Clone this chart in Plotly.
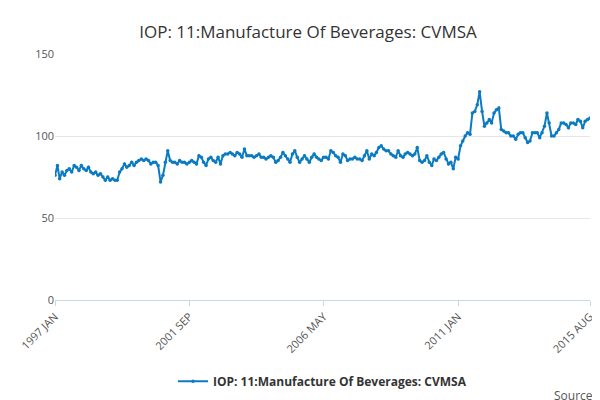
import plotly.graph_objects as go
import pandas as pd

values = [
76,82,74,78,76,79,80,78,82,81,79,82,
80,79,81,78,77,78,76,77,75,73,75,73,
74,73,73,78,80,83,81,82,84,82,84,85,
86,85,86,85,83,84,84,82,72,76,84,91,
85,84,84,83,85,84,84,83,84,85,84,83,
88,87,84,82,86,87,85,84,87,83,88,89,
89,90,89,88,90,89,87,92,88,88,88,87,
88,89,87,87,86,87,88,87,84,85,87,90,
88,86,84,89,91,87,84,86,88,86,84,87,
89,87,86,85,87,87,86,91,90,88,87,84,
89,88,85,86,86,87,86,86,85,88,91,86,
89,88,90,93,94,92,91,91,89,88,87,91,
88,87,89,90,89,88,89,93,85,84,85,88,
84,82,86,85,87,89,90,86,83,84,80,87,
86,94,97,100,102,101,114,115,119,127,115,106,
108,110,108,114,116,117,104,103,102,102,100,100,
98,101,102,102,99,96,97,102,102,102,99,102,
106,114,108,100,100,102,104,108,108,107,105,108,
108,107,110,109,105,109,110,111,
]
dates = pd.date_range("1997-01-01", periods=len(values), freq="MS")
tick_dates = ["1997-01-01", "2001-09-01", "2006-05-01", "2011-01-01", "2015-08-01"]
tick_text = ["1997 JAN", "2001 SEP", "2006 MAY", "2011 JAN", "2015 AUG"]
name = "IOP: 11:Manufacture Of Beverages: CVMSA"

fig = go.Figure(go.Scatter(x=dates, y=values, mode="lines+markers", name=name,
    line=dict(color="#0b7bc1", width=2), marker=dict(size=3.5, color="#0b7bc1")))
fig.update_layout(
    width=600, height=400, plot_bgcolor="white", paper_bgcolor="white",
    font=dict(family="Open Sans, sans-serif", color="#555"),
    title=dict(text=name, x=0.5, y=0.955, font=dict(size=17, color="#333")),
    margin=dict(l=47, r=18, t=46, b=108),
    showlegend=True,
    legend=dict(orientation="h", x=0.5, xanchor="center", yanchor="middle", y=-0.33,
                font=dict(size=12, color="#333", weight="bold")),
    annotations=[dict(text="Source:", xref="paper", yref="paper", x=1.015, y=-0.39,
                      showarrow=False, xanchor="right", yanchor="middle",
                      font=dict(size=12, color="#555"))],
)
fig.update_xaxes(tickvals=tick_dates, ticktext=tick_text, tickangle=-45, showgrid=False,
                 showline=True, linecolor="#ccd6eb", ticks="outside", tickcolor="#ccd6eb",
                 automargin=False,
                 range=["1997-01-01", "2015-08-01"], tickfont=dict(size=11, color="#555"))
fig.update_yaxes(range=[0, 150], tickvals=[0, 50, 100, 150], gridcolor="#e6e6e6",
                 zeroline=False, automargin=False, tickfont=dict(size=11, color="#555"))
fig.write_html("out.html")
